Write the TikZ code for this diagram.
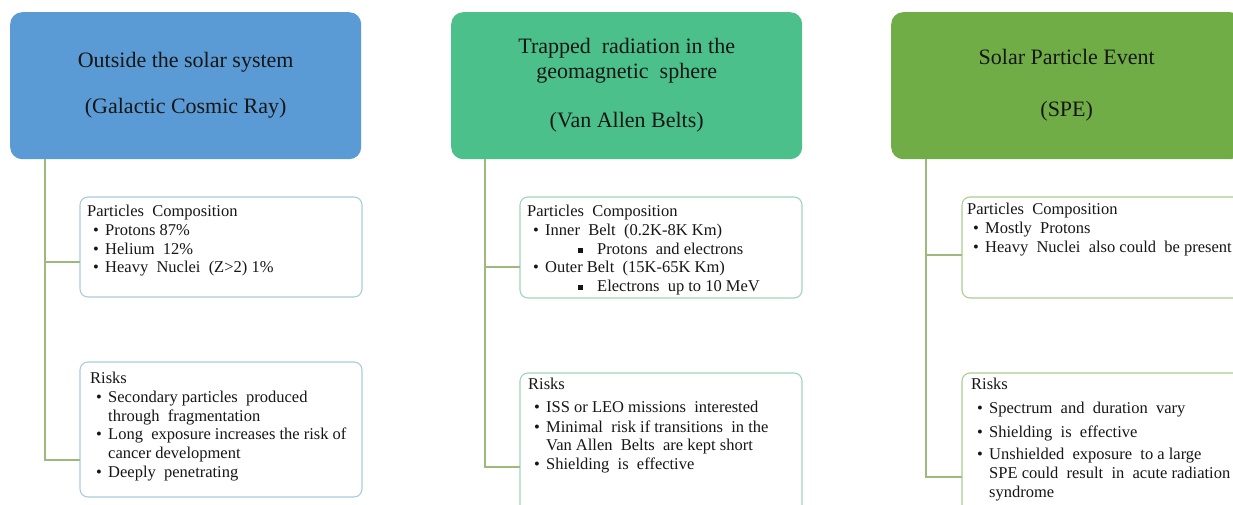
\documentclass[tikz,border=0pt]{standalone}
\usepackage{fontspec}
\setmainfont{Liberation Serif}
\definecolor{hblue}{HTML}{5B9BD5}
\definecolor{hteal}{HTML}{4BC08A}
\definecolor{hgreen}{HTML}{70AD47}
\definecolor{bblue}{HTML}{A9CCE0}
\definecolor{bteal}{HTML}{9FD4BB}
\definecolor{bgreen}{HTML}{A9CF8F}
\definecolor{conncol}{HTML}{9EB97E}
\definecolor{txt}{HTML}{161616}
\newcommand{\bl}[1]{\hspace*{6pt}\makebox[12pt][l]{\textbullet}#1}
\newcommand{\cont}[1]{\hspace*{18pt}#1}
\newcommand{\sq}[1]{\hspace*{51pt}\makebox[19pt][l]{\raisebox{1.5pt}{\rule{4.5pt}{4.5pt}}}#1}
\tikzset{
  header/.style={rounded corners=12pt, anchor=north west, inner sep=0pt,
    minimum width=351pt, minimum height=147pt, align=center, text=txt,
    font=\fontsize{22}{25}\selectfont},
  childbox/.style={draw, line width=1.1pt, rounded corners=8pt, fill=white},
  itemtext/.style={anchor=north west, inner sep=0pt, align=left, text=txt,
    font=\fontsize{16.5}{18.7}\selectfont},
  conn/.style={draw=conncol, line width=1.3pt}
}
\begin{document}
\begin{tikzpicture}[x=1pt,y=-1pt]
\useasboundingbox (0,0) rectangle (1233,505);
\clip (0,0) rectangle (1233,505);
\fill[white] (0,0) rectangle (1233,505);

% ---------- column 1 ----------
\node[header, fill=hblue] (h1) at (10,12) {Outside the solar system\\[21pt](Galactic Cosmic Ray)};
\draw[childbox, draw=bblue] (80,197) rectangle (362,297);
\draw[childbox, draw=bblue] (80,362) rectangle (362,497);
\node[itemtext] (tp1) at (87,205) {Particles\ \ Composition\\
\bl{Protons 87\%}\\
\bl{Helium\ \ 12\%}\\
\bl{Heavy\ \ Nuclei\ \ (Z>2) 1\%}};
\node[itemtext] (tr1) at (90,372) {Risks\\
\bl{Secondary particles\ \ produced}\\
\cont{through\ \ fragmentation}\\
\bl{Long\ \ exposure increases the risk of}\\
\cont{cancer development}\\
\bl{Deeply\ \ penetrating}};
\coordinate (t1) at (h1.south west -| 45,0);
\coordinate (b1) at (45,262);
\coordinate (e1) at (45,460);
\draw[conn] (t1) -- (e1) -- (80,460);
\draw[conn] (b1) -- (80,262);

% ---------- column 2 ----------
\node[header, fill=hteal] (h2) at (451,12) {Trapped\ \ radiation in the\\geomagnetic\ \ sphere\\[24pt](Van Allen Belts)};
\draw[childbox, draw=bteal] (520,197) rectangle (802,298);
\draw[childbox, draw=bteal] (520,373) rectangle (802,515);
\node[itemtext] (tp2) at (527,205) {Particles\ \ Composition\\
\bl{Inner\ \ Belt\ \ (0.2K-8K Km)}\\
\sq{Protons\ \ and electrons}\\
\bl{Outer Belt\ \ (15K-65K Km)}\\
\sq{Electrons\ \ up to 10 MeV}};
\node[itemtext] (tr2) at (528,378) {Risks\\[4pt]
\bl{ISS or LEO missions\ \ interested}\\[1pt]
\bl{Minimal\ \ risk if transitions\ \ in the}\\
\cont{Van Allen\ \ Belts\ \ are kept short}\\
\bl{Shielding\ \ is\ \ effective}};
\coordinate (t2) at (h2.south west -| 485,0);
\coordinate (b2) at (485,267);
\coordinate (e2) at (485,467);
\draw[conn] (t2) -- (e2) -- (520,467);
\draw[conn] (b2) -- (520,267);

% ---------- column 3 ----------
\node[header, fill=hgreen] (h3) at (891,12) {Solar Particle Event\\[27pt](SPE)};
\draw[childbox, draw=bgreen] (962,197) rectangle (1250,298);
\draw[childbox, draw=bgreen] (962,373) rectangle (1250,515);
\node[itemtext] (tp3) at (967,203) {Particles\ \ Composition\\
\bl{Mostly\ \ Protons}\\
\bl{Heavy\ \ Nuclei\ \ also could\ \ be present}};
\node[itemtext] (tr3) at (971,378) {Risks\\[5pt]
\bl{Spectrum\ \ and\ \ duration\ \ vary}\\[5pt]
\bl{Shielding\ \ is\ \ effective}\\[4pt]
\bl{Unshielded\ \ exposure\ \ to a large}\\
\cont{SPE could\ \ result\ \ in\ \ acute radiation}\\
\cont{syndrome}};
\coordinate (t3) at (h3.south west -| 926,0);
\coordinate (b3) at (926,255);
\coordinate (e3) at (926,477);
\draw[conn] (t3) -- (e3) -- (962,477);
\draw[conn] (b3) -- (962,255);
\end{tikzpicture}
\end{document}
